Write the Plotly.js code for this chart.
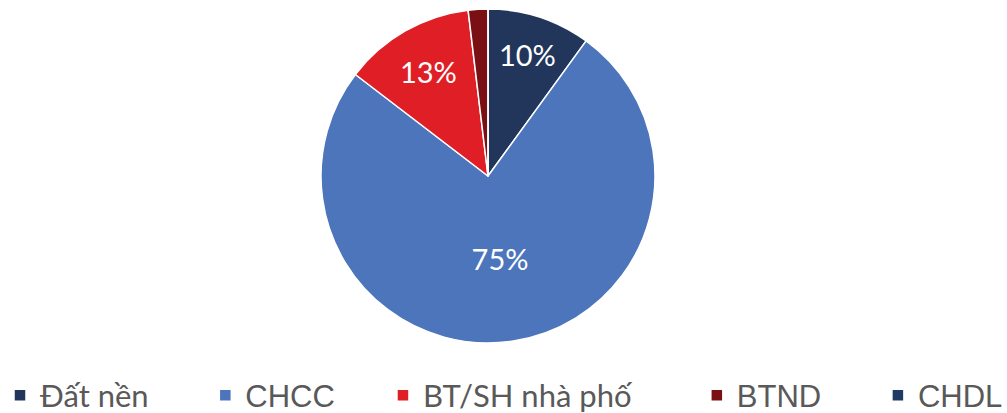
<!DOCTYPE html>
<html>
<head>
<meta charset="utf-8">
<script src="https://cdn.plot.ly/plotly-3.0.1.min.js"></script>
<style>html,body{margin:0;padding:0;background:#fff;}#chart{width:1007px;height:413px;}</style>
</head>
<body>
<div id="chart"></div>
<script>
const categories = ["Đất nền", "CHCC", "BT/SH nhà phố", "BTND", "CHDL"];
const values = [10.0, 75.4, 12.7, 1.9, 0];
const colors = ["#22365C", "#4C75BC", "#E01E25", "#7A1014", "#1F3A64"];
const legendFonts = ["Lato", "Liberation Sans", "Lato", "Liberation Sans", "Liberation Sans"];
const legendPad = [6, 5, 7, 6, 0];

const total = values.reduce((a, b) => a + b, 0);
const texts = values.map(v => {
  const p = v / total * 100;
  return p >= 5 ? Math.round(p) + "%" : "";
});
const legendLabels = categories.map((c, i) =>
  '<span style="font-family:' + legendFonts[i] + '">' + c + '</span>' + "&nbsp;".repeat(legendPad[i]));

const trace = {
  type: "pie",
  labels: legendLabels,
  values: values,
  text: texts,
  textinfo: "text",
  textposition: "inside",
  insidetextorientation: "horizontal",
  sort: false,
  direction: "clockwise",
  rotation: 0,
  domain: { x: [0, 0.9692], y: [0, 1] },
  marker: { colors: colors, line: { color: "#ffffff", width: 1.5 } },
  textfont: { family: "Lato", size: 29, color: "#ffffff" },
  hoverinfo: "none"
};

const layout = {
  width: 1007,
  height: 413,
  margin: { l: 0, r: 0, t: 9, b: 70 },
  paper_bgcolor: "#ffffff",
  showlegend: true,
  legend: {
    orientation: "h",
    x: 0.0,
    xanchor: "left",
    xref: "container",
    yref: "container",
    y: 0.042,
    yanchor: "middle",
    font: { family: "Liberation Sans", size: 31, color: "#595959" },
    traceorder: "normal"
  }
};

Plotly.newPlot("chart", [trace], layout, { displayModeBar: false, staticPlot: true });
</script>
</body>
</html>
